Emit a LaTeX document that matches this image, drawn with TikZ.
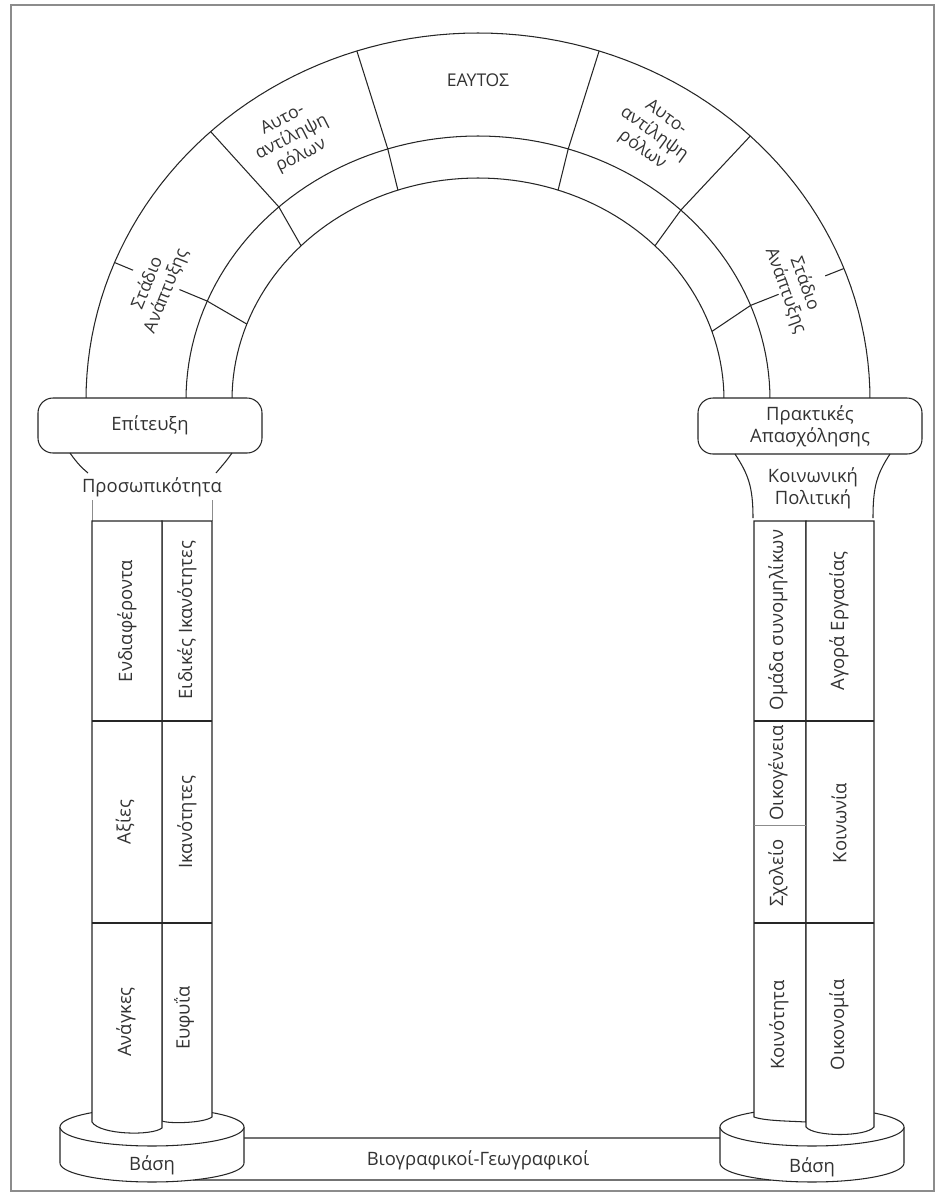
\documentclass[tikz,border=0pt]{standalone}
\usepackage{fontspec}
\setmainfont{Open Sans}
\usetikzlibrary{calc}

\begin{document}
\begin{tikzpicture}[x=0.02cm, y=-0.02cm,
    line/.style={draw=black!85, line width=0.6pt},
    faint/.style={draw=black!45, line width=0.5pt},
    label/.style={text=black!80, font=\fontsize{10.5}{12.5}\selectfont, align=center, inner sep=1pt},
    archtext/.style={label, font=\fontsize{10}{11.5}\selectfont},
    coltext/.style={label, rotate=90},
    capital/.style={line, fill=white, rounded corners=0.3cm},
    basestyle/.style={line, fill=white}
]

    \useasboundingbox (0,0) rectangle (942,1198);

    % Arch centre and radii: outer, middle, inner
    \def\cx{478}
    \def\cy{400}
    \def\rxa{392} \def\rya{367}
    \def\rxb{292} \def\ryb{264}
    \def\rxc{246} \def\ryc{222}
    \def\drawBase#1{
        \draw[basestyle] ({#1-92}, 1127) -- ({#1-92}, 1163)
            -- plot[domain=180:0, samples=37] ({#1+92*cos(\x)}, {1163+19*sin(\x)})
            -- ({#1+92}, 1127);
        \draw[basestyle] plot[domain=0:360, samples=73] ({#1+92*cos(\x)}, {1127+19*sin(\x)}) -- cycle;
    }

    % Frame
    \draw[black!45, line width=1.4pt] (11,5) rectangle (934,1191);

    % Rings of the arch
    \foreach \rx/\ry in {\rxa/\rya, \rxb/\ryb, \rxc/\ryc}{
        \draw[line] plot[domain=0:180, samples=91] ({\cx+\rx*cos(\x)}, {\cy-\ry*sin(\x)});
    }
    % Joints through both rings
    \foreach \ta/\tb in {108/109, 72/71, 133/136, 46/44}{
        \draw[line] ({\cx+\rxa*cos(\ta)}, {\cy-\rya*sin(\ta)})
            -- ({\cx+\rxb*cos(\ta)}, {\cy-\ryb*sin(\ta)})
            -- ({\cx+\rxc*cos(\tb)}, {\cy-\ryc*sin(\tb)});
    }
    % Joints broken by the stage labels
    \foreach \ta/\tb in {158/160, 21/18}{
        \coordinate (outer) at ({\cx+\rxa*cos(\ta)}, {\cy-\rya*sin(\ta)});
        \coordinate (middle) at ({\cx+\rxb*cos(\ta)}, {\cy-\ryb*sin(\ta)});
        \draw[line] (outer) -- ($(outer)!0.2!(middle)$);
        \draw[line] ($(middle)!0.3!(outer)$) -- (middle)
            -- ({\cx+\rxc*cos(\tb)}, {\cy-\ryc*sin(\tb)});
    }

    \node[archtext, rotate=68] (stageL) at (157,287) {Στάδιο\\Ανάπτυξης};
    \node[archtext, rotate=27] (rolesL) at (292,138) {Αυτο-\\αντίληψη\\ρόλων};
    \node[archtext] (self) at (478,80) {ΕΑΥΤΟΣ};
    \node[archtext, rotate=-36] (rolesR) at (654,134) {Αυτο-\\αντίληψη\\ρόλων};
    \node[archtext, rotate=-70] (stageR) at (795,287) {Στάδιο\\Ανάπτυξης};

    % Capitals
    \draw[capital] (38,398) rectangle (262,453);
    \draw[capital] (698,398) rectangle (922,454);
    \node[label] (achievement) at (150,425) {Επίτευξη};
    \node[label] (practices) at (810,426) {Πρακτικές\\Απασχόλησης};

    \draw[line] (70,453) .. controls (77,463) and (82,468) .. (88,473);
    \draw[line] (232,453) .. controls (225,463) and (220,468) .. (216,473);
    \draw[line] (735,454) .. controls (748,474) and (753,486) .. (753,518);
    \draw[line] (890,454) .. controls (877,474) and (873,486) .. (873,518);
    \node[label] (personality) at (152,487) {Προσωπικότητα};
    \node[label] (policy) at (813,488) {Κοινωνική\\Πολιτική};

    % Ground between the bases
    \draw[black!55, line width=1.1pt] (244,1138) -- (722,1138);
    \draw[black!55, line width=1.1pt] (193,1180) -- (771,1180);
    \node[label] (biography) at (478,1160) {Βιογραφικοί-Γεωγραφικοί};

    % Bases
    \drawBase{152}
    \drawBase{812}
    \node[label] (baseL) at (152,1165) {Βάση};
    \node[label] (baseR) at (812,1167) {Βάση};

    % Left pillar
    \draw[faint] (92,500) -- (92,521);
    \draw[faint] (212,500) -- (212,521);
    \draw[line, fill=white] (162,521) -- (212,521) -- (212,1117)
        .. controls (204,1123) and (170,1124) .. (162,1121) -- cycle;
    \draw[line, fill=white] (92,521) -- (162,521) -- (162,1128)
        .. controls (152,1136) and (100,1135) .. (92,1122) -- cycle;
    \foreach \y in {721, 923}{
        \draw[line] (92,\y) -- (212,\y);
    }

    \node[coltext] (interests) at (127,621) {Ενδιαφέροντα};
    \node[coltext] (aptitudes) at (187,620) {Ειδικές Ικανότητες};
    \node[coltext] (values) at (125,822) {Αξίες};
    \node[coltext] (abilities) at (187,822) {Ικανότητες};
    \node[coltext] (needs) at (126,1022) {Ανάγκες};
    \node[coltext] (intelligence) at (184,1018) {Ευφυΐα};

    % Right pillar
    \draw[line, fill=white] (754,521) -- (806,521) -- (806,1122)
        .. controls (790,1121) and (765,1121) .. (754,1117) -- cycle;
    \draw[line, fill=white] (806,521) -- (874,521) -- (874,1127)
        .. controls (866,1137) and (814,1137) .. (806,1127) -- cycle;
    \foreach \y in {721, 923}{
        \draw[line] (754,\y) -- (874,\y);
    }
    \draw[faint] (754,825) -- (806,825);

    \node[coltext] (peers) at (778,620) {Ομάδα συνομηλίκων};
    \node[coltext] (labour) at (839,621) {Αγορά Εργασίας};
    \node[coltext] (family) at (778,773) {Οικογένεια};
    \node[coltext] (school) at (778,873) {Σχολείο};
    \node[coltext] (society) at (839,823) {Κοινωνία};
    \node[coltext] (community) at (779,1025) {Κοινότητα};
    \node[coltext] (economy) at (839,1025) {Οικονομία};
\end{tikzpicture}
\end{document}
